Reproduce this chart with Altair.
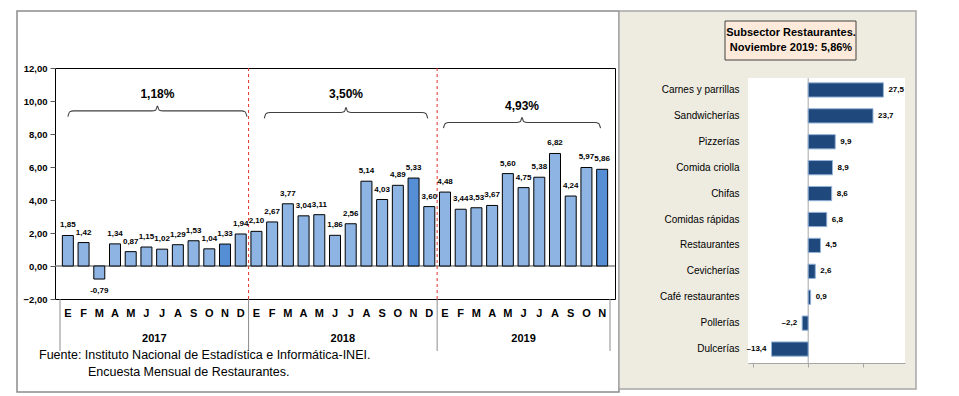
import altair as alt
import pandas as pd

FONT = "Liberation Sans, Arial, sans-serif"

# ---------------- data ----------------
month_letters = ["E", "F", "M", "A", "M", "J", "J", "A", "S", "O", "N", "D"]
years = ["2017", "2018", "2019"]
values_2017 = [1.85, 1.42, -0.79, 1.34, 0.87, 1.15, 1.02, 1.29, 1.53, 1.04, 1.33, 1.94]
values_2018 = [2.10, 2.67, 3.77, 3.04, 3.11, 1.86, 2.56, 5.14, 4.03, 4.89, 5.33, 3.60]
values_2019 = [4.48, 3.44, 3.53, 3.67, 5.60, 4.75, 5.38, 6.82, 4.24, 5.97, 5.86]
highlight_month_index = 10  # noviembre

brace_start = [0.0, 12.5, 23.9]
brace_end = [11.4, 22.9, 33.9]
brace_level = [9.4, 9.3, 8.7]
brace_text = ["1,18%", "3,50%", "4,93%"]
brace_text_level = [10.4, 10.4, 9.7]

source_lines = ["Fuente: Instituto Nacional de Estadística e Informática-INEI.",
                "Encuesta Mensual de  Restaurantes."]

sub_categories = ["Carnes y parrillas", "Sandwicherías", "Pizzerías", "Comida criolla", "Chifas",
                  "Comidas rápidas", "Restaurantes", "Cevicherías", "Café restaurantes",
                  "Pollerías", "Dulcerías"]
sub_values = [27.5, 23.7, 9.9, 8.9, 8.6, 6.8, 4.5, 2.6, 0.9, -2.2, -13.4]
title_lines = ["Subsector Restaurantes.", "Noviembre 2019: 5,86%"]

# ---------------- tables ----------------
rows = []
for yi, (yr, vals) in enumerate(zip(years, [values_2017, values_2018, values_2019])):
    for mi, v in enumerate(vals):
        rows.append({
            "idx": yi * 12 + mi, "year": yr, "month": month_letters[mi], "value": v,
            "label": f"{v:.2f}".replace(".", ","),
            "hl": "si" if mi == highlight_month_index else "no",
        })
df = pd.DataFrame(rows)

year_df = df.groupby("year", as_index=False).agg(first=("idx", "min"), last=("idx", "max"))
year_df["center"] = (year_df["first"] + year_df["last"]) / 2
sep_pos = [v - 0.5 for v in year_df["first"]] + [year_df["last"].max() + 0.5]
sep_df = pd.DataFrame({"x": sep_pos})
red_df = pd.DataFrame({"x": sep_pos[1:-1], "top": [12, 12], "bot": [-2, -2]})

brace_rows = []
for b, (s, e, L) in enumerate(zip(brace_start, brace_end, brace_level)):
    m = (s + e) / 2
    pts = [(s, L - 0.35), (s + 0.12, L - 0.06), (s + 0.35, L), (m - 0.35, L), (m - 0.1, L + 0.06),
           (m, L + 0.3), (m + 0.1, L + 0.06), (m + 0.35, L), (e - 0.35, L), (e - 0.12, L - 0.06),
           (e, L - 0.35)]
    for k, (px, py) in enumerate(pts):
        brace_rows.append({"b": b, "k": k, "x": px, "y": py})
brace_df = pd.DataFrame(brace_rows)
brace_lbl_df = pd.DataFrame({"x": [(s + e) / 2 for s, e in zip(brace_start, brace_end)],
                             "y": brace_text_level, "t": brace_text})

one = pd.DataFrame({"k": [0]})

W, H = 560, 231
xs = alt.Scale(domain=[-0.5, 34.5], nice=False, zero=False)
ys = alt.Scale(domain=[-2, 12], nice=False, zero=False)
YAX = alt.Axis(values=list(range(-2, 13, 2)), title=None, grid=False, domain=False, labelOverlap=False,
               labelExpr="replace(format(datum.value, '.2f'), '.', ',')",
               labelFont=FONT, labelFontSize=9.5, labelFontWeight="bold", labelColor="black",
               tickColor="#595959", tickSize=5, labelPadding=3, zindex=2)


def X(f):
    return alt.X(f, scale=xs, axis=None)


def Y(f):
    return alt.Y(f, scale=ys, axis=YAX)


frame = alt.Chart(one).mark_rect(filled=False, stroke="#8C8C8C", strokeWidth=1.5).encode(
    x=alt.value(-38), x2=alt.value(564), y=alt.value(-57), y2=alt.value(324))

zero = alt.Chart(one).mark_rule(color="#868686", strokeWidth=1.5).encode(
    y=alt.datum(0, scale=ys, axis=YAX))

bars = alt.Chart(df).mark_bar(size=11, stroke="black", strokeWidth=1).encode(
    x=X("idx:Q"),
    y=Y("value:Q"),
    y2=alt.datum(0),
    color=alt.Color("hl:N", scale=alt.Scale(domain=["no", "si"], range=["#8DB4E2", "#558ED5"]), legend=None),
)

red = alt.Chart(red_df).mark_rule(color="#E8302A", strokeDash=[3, 3], strokeWidth=1).encode(
    x=X("x:Q"), y=Y("top:Q"), y2="bot:Q")

lbl_pos = alt.Chart(df).transform_filter("datum.value >= 0").mark_text(
    font=FONT, fontSize=8, fontWeight="bold", dy=-10, color="black").encode(
    x=X("idx:Q"), y=Y("value:Q"), text="label:N")
lbl_neg = alt.Chart(df).transform_filter("datum.value < 0").mark_text(
    font=FONT, fontSize=8, fontWeight="bold", dy=12, color="black").encode(
    x=X("idx:Q"), y=Y("value:Q"), text="label:N")

braces = alt.Chart(brace_df).mark_line(color="#404040", strokeWidth=1.1, interpolate="monotone").encode(
    x=X("x:Q"), y=Y("y:Q"), detail="b:N", order="k:Q")
brace_lbl = alt.Chart(brace_lbl_df).mark_text(font=FONT, fontSize=12, fontWeight="bold", color="black").encode(
    x=X("x:Q"), y=Y("y:Q"), text="t:N")

month_txt = alt.Chart(df).mark_text(font=FONT, fontSize=11, fontWeight="bold", color="black").encode(
    x=X("idx:Q"), y=alt.value(246), text="month:N")
year_txt = alt.Chart(year_df).mark_text(font=FONT, fontSize=11, fontWeight="bold", color="black").encode(
    x=X("center:Q"), y=alt.value(271), text="year:N")
seps = alt.Chart(sep_df).mark_rule(color="#8C8C8C", strokeWidth=1).encode(
    x=X("x:Q"), y=alt.value(231), y2=alt.value(283))

src1 = alt.Chart(one).mark_text(font=FONT, fontSize=12.5, align="left", color="black").encode(
    x=alt.value(-16), y=alt.value(287), text=alt.value(source_lines[0]))
src2 = alt.Chart(one).mark_text(font=FONT, fontSize=12.5, align="left", color="black").encode(
    x=alt.value(33), y=alt.value(304), text=alt.value(source_lines[1]))

left = alt.layer(frame, zero, bars, red, lbl_pos, lbl_neg, braces, brace_lbl,
                 month_txt, year_txt, seps, src1, src2).properties(
    width=W, height=H, view=alt.ViewBackground(stroke="black", strokeWidth=1))

# ---------------- right panel ----------------
sdf = pd.DataFrame({"cat": sub_categories, "v": sub_values})
sdf["t"] = [f"{v:.1f}".replace(".", ",").replace("-", "–") for v in sub_values]

RW, RH = 157, 295
rxs = alt.Scale(domain=[-22, 35.4], nice=False, zero=False)
rys = alt.Scale(domain=sub_categories, range=[9, 294], paddingInner=0.45, paddingOuter=0.225)
RXAX = alt.Axis(values=[-20, 0, 20], labels=False, title=None, grid=False,
                domainColor="#A6A6A6", tickColor="#A6A6A6", tickSize=4, zindex=2)
RYAX = alt.Axis(title=None, ticks=False, domain=False, labelPadding=9, labelFont=FONT, labelFontSize=10,
                labelColor="black", labelLimit=200, zindex=2)


def RX(f):
    return alt.X(f, scale=rxs, axis=RXAX)


def RY(f):
    return alt.Y(f, scale=rys, sort=sub_categories, axis=RYAX)


beige = alt.Chart(one).mark_rect(fill="#EEECE1", stroke="#A6A6A6", strokeWidth=1.5).encode(
    x=alt.value(-129), x2=alt.value(168), y=alt.value(-57), y2=alt.value(321))
tbox = alt.Chart(one).mark_rect(fill="#FDEADA", stroke="#404040", strokeWidth=1).encode(
    x=alt.value(-23), x2=alt.value(108), y=alt.value(-47), y2=alt.value(-8))
t1 = alt.Chart(one).mark_text(font=FONT, fontSize=11, fontWeight="bold", color="black").encode(
    x=alt.value(43), y=alt.value(-35), text=alt.value(title_lines[0]))
t2 = alt.Chart(one).mark_text(font=FONT, fontSize=11, fontWeight="bold", color="black").encode(
    x=alt.value(43), y=alt.value(-20), text=alt.value(title_lines[1]))
white = alt.Chart(one).mark_rect(fill="white").encode(
    x=alt.value(0), x2=alt.value(RW), y=alt.value(10), y2=alt.value(RH))
zr = alt.Chart(one).mark_rule(color="#A6A6A6", strokeWidth=1).encode(
    x=alt.datum(0, scale=rxs, axis=RXAX), y=alt.value(10), y2=alt.value(RH))

rbars = alt.Chart(sdf).mark_bar(fill="#1F497D", stroke="#95B3D7", strokeWidth=1).encode(
    x=RX("v:Q"), x2=alt.datum(0), y=RY("cat:N"))
rl_pos = alt.Chart(sdf).transform_filter("datum.v >= 0").mark_text(
    font=FONT, fontSize=8, fontWeight="bold", align="left", dx=5, color="black").encode(
    x=RX("v:Q"), y=RY("cat:N"), text="t:N")
rl_neg = alt.Chart(sdf).transform_filter("datum.v < 0").mark_text(
    font=FONT, fontSize=8, fontWeight="bold", align="right", dx=-5, color="black").encode(
    x=RX("v:Q"), y=RY("cat:N"), text="t:N")

right = alt.layer(beige, tbox, t1, t2, white, zr, rbars, rl_pos, rl_neg).properties(
    width=RW, height=RH, view=alt.ViewBackground(strokeOpacity=0))

chart = alt.hconcat(left, right, spacing=-3).properties(
    padding={"left": 7, "top": 1, "right": 5, "bottom": 2}, background="white")

chart.save("out.html", embed_options={"renderer": "svg", "actions": False})
